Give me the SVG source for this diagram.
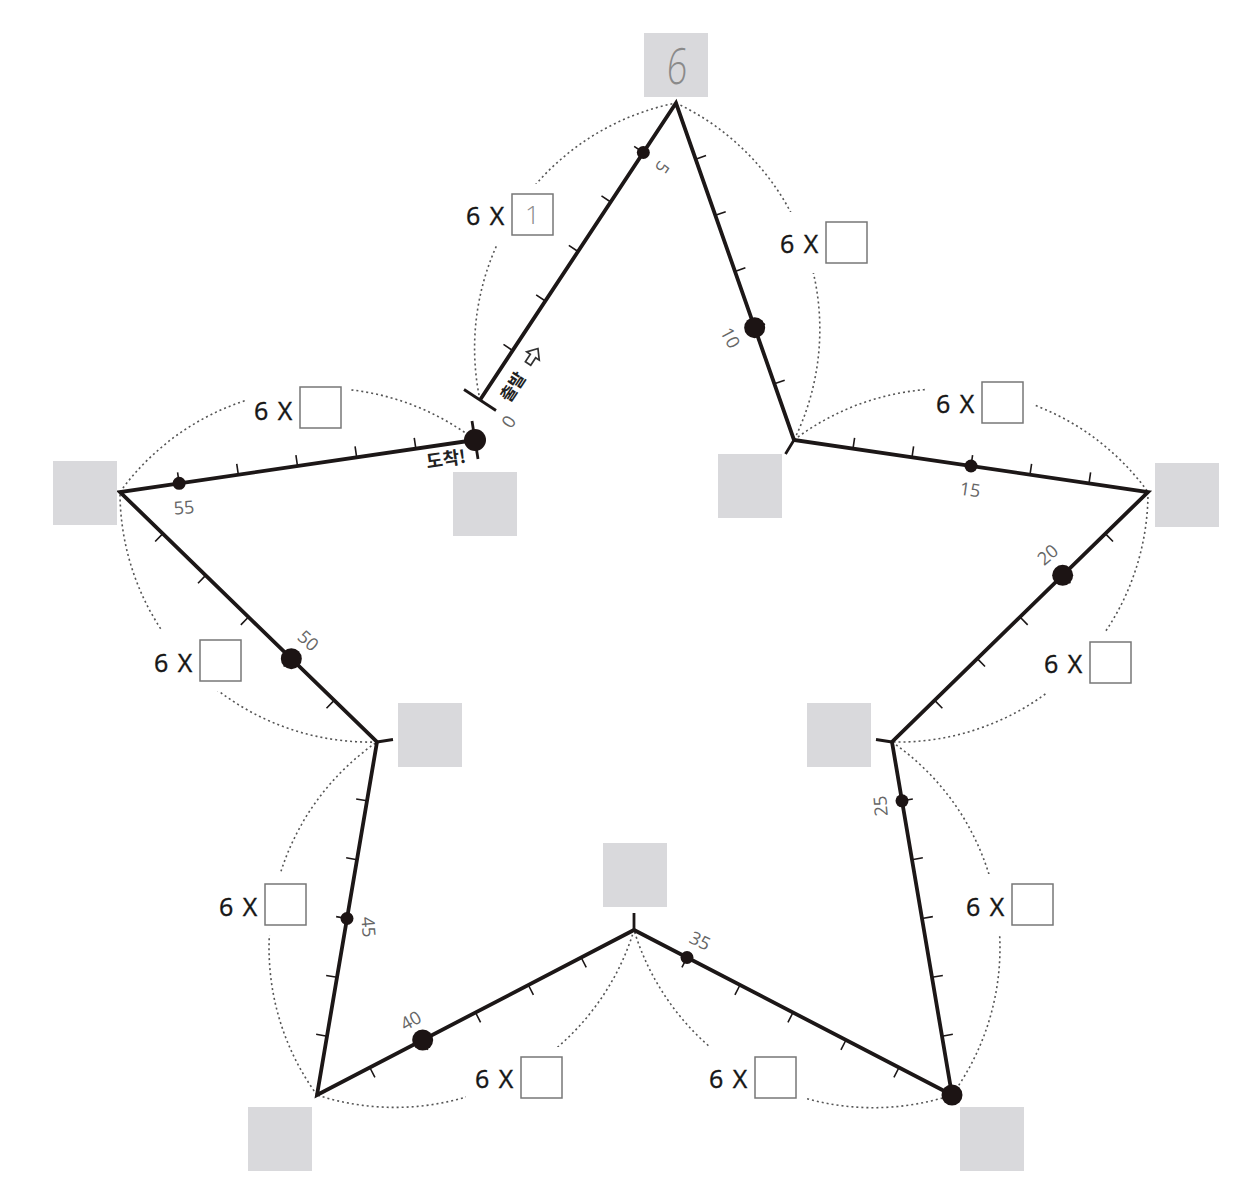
<svg xmlns="http://www.w3.org/2000/svg" width="1240" height="1189" viewBox="0 0 1240 1189">
<style>
.line{stroke:#1c1717;stroke-width:3.8;fill:none;stroke-linejoin:miter}
.stub{stroke:#1c1717;stroke-width:2.8;fill:none}
.tick{stroke:#1c1717;stroke-width:1.6;fill:none}
.arc{stroke:#555;stroke-width:1.6;fill:none;stroke-dasharray:2 3}
.dot{fill:#1c1414}
.gbox{fill:#d9d9dc}
.abox{fill:#fff;stroke:#777;stroke-width:1.5}
.mask{fill:#fff}
.mul{font-family:"Open Sans","Noto Sans",sans-serif;font-size:25px;fill:#151515;word-spacing:3px;stroke:#151515;stroke-width:0.4}
.num{font-family:"Open Sans","Noto Sans",sans-serif;font-size:18px;fill:#666;text-anchor:middle}
.kr{font-family:"Noto Sans CJK KR",sans-serif;font-weight:bold;fill:#222;text-anchor:middle}
.hand{font-family:"Open Sans","Noto Sans",sans-serif;font-weight:300;fill:#8a8a8a;text-anchor:middle}
</style>
<rect width="1240" height="1189" fill="#fff"/>
<g id="arcs">
<path class="arc" d="M480,400 A250,250 0 0 1 676,103"/>
<path class="arc" d="M676,103 A250,250 0 0 1 794,440"/>
<path class="arc" d="M794,440 A250,250 0 0 1 1148,492"/>
<path class="arc" d="M1148,492 A250,250 0 0 1 892,742"/>
<path class="arc" d="M892,742 A250,250 0 0 1 952,1095"/>
<path class="arc" d="M952,1095 A250,250 0 0 1 634,930"/>
<path class="arc" d="M634,930 A250,250 0 0 1 317,1095"/>
<path class="arc" d="M317,1095 A250,250 0 0 1 377,742"/>
<path class="arc" d="M377,742 A250,250 0 0 1 120,492"/>
<path class="arc" d="M120,492 A250,250 0 0 1 475,440"/>
</g>
<g id="label-gaps">
<rect class="mask" x="457" y="184" width="106" height="61"/>
<rect class="mask" x="771" y="212" width="106" height="61"/>
<rect class="mask" x="927" y="372" width="106" height="61"/>
<rect class="mask" x="1035" y="632" width="106" height="61"/>
<rect class="mask" x="957" y="874" width="106" height="61"/>
<rect class="mask" x="700" y="1047" width="106" height="61"/>
<rect class="mask" x="466" y="1047" width="106" height="61"/>
<rect class="mask" x="210" y="874" width="106" height="61"/>
<rect class="mask" x="145" y="630" width="106" height="61"/>
<rect class="mask" x="245" y="377" width="106" height="61"/>
</g>
<g id="connectors">
<path class="line" d="M480,400 L676,103 L794,440 L1148,492 L892,742 L952,1095 L634,930 L317,1095 L377,742 L120,492 L475,440"/>
<path class="stub" d="M794,440 L785.5,454 M892,742 L876,739.5 M634,930 L634,913 M377,742 L393,739.5"/>
<path class="stub" d="M464,389.5 L496,410.5"/>
<path class="stub" stroke-width="2.5" d="M472,421 L478,459"/>
<path class="tick" d="M512.67,350.5L503.49,344.44M545.33,301L536.15,294.94M578,251.5L568.82,245.44M610.67,202L601.49,195.94M643.33,152.5L634.15,146.44
M695.67,159.17L706.05,155.53M715.33,215.33L725.71,211.69M735,271.5L745.38,267.86M754.67,327.67L765.05,324.03M774.33,383.83L784.71,380.19
M853,448.67L854.6,437.79M912,457.33L913.6,446.45M971,466L972.6,455.12M1030,474.67L1031.6,463.79M1089,483.33L1090.6,472.45
M1105.33,533.67L1113.02,541.54M1062.67,575.33L1070.36,583.2M1020,617L1027.69,624.87M977.33,658.67L985.02,666.54M934.67,700.33L942.36,708.2
M902,800.83L912.84,798.99M912,859.67L922.84,857.83M922,918.5L932.84,916.66M932,977.33L942.84,975.49M942,1036.17L952.84,1034.33
M899,1067.5L893.93,1077.26M846,1040L840.93,1049.76M793,1012.5L787.93,1022.26M740,985L734.93,994.76M687,957.5L681.93,967.26
M581.17,957.5L586.25,967.26M528.33,985L533.41,994.76M475.5,1012.5L480.58,1022.26M422.67,1040L427.75,1049.76M369.83,1067.5L374.91,1077.26
M327,1036.17L316.16,1034.33M337,977.33L326.16,975.49M347,918.5L336.16,916.66M357,859.67L346.16,857.83M367,800.83L356.16,798.99
M334.17,700.33L326.5,708.22M291.33,658.67L283.66,666.56M248.5,617L240.83,624.89M205.67,575.33L198,583.22M162.83,533.67L155.16,541.56
M179.17,483.33L177.58,472.45M238.33,474.67L236.74,463.79M297.5,466L295.91,455.12M356.67,457.33L355.08,446.45M415.83,448.67L414.24,437.79"/>
</g>
<g id="dots">
<circle class="dot" cx="643.33" cy="152.5" r="6.5"/>
<circle class="dot" cx="754.67" cy="327.67" r="10.5"/>
<circle class="dot" cx="971" cy="466" r="6.5"/>
<circle class="dot" cx="1062.67" cy="575.33" r="10.5"/>
<circle class="dot" cx="902" cy="800.83" r="6.5"/>
<circle class="dot" cx="952" cy="1095" r="10.5"/>
<circle class="dot" cx="687" cy="957.5" r="6.5"/>
<circle class="dot" cx="422.67" cy="1040" r="10.5"/>
<circle class="dot" cx="347" cy="918.5" r="6.5"/>
<circle class="dot" cx="291.33" cy="658.67" r="10.5"/>
<circle class="dot" cx="179.17" cy="483.33" r="6.5"/>
<circle class="dot" cx="475" cy="440" r="11"/>
</g>
<g id="scale-numbers">
<text class="num" transform="translate(509,422) rotate(-56.6)" y="6">0</text>
<text class="num" transform="translate(662,167) rotate(123.4)" y="6">5</text>
<text class="num" transform="translate(730,338) rotate(62)" y="6">10</text>
<text class="num" transform="translate(970,490) rotate(8)" y="6">15</text>
<text class="num" transform="translate(1048,555) rotate(-40)" y="6">20</text>
<text class="num" transform="translate(881,806) rotate(-95)" y="6">25</text>
<text class="num" transform="translate(700,941) rotate(26)" y="6">35</text>
<text class="num" transform="translate(411,1021) rotate(-30)" y="6">40</text>
<text class="num" transform="translate(368,927) rotate(85)" y="6">45</text>
<text class="num" transform="translate(308,641) rotate(42)" y="6">50</text>
<text class="num" transform="translate(184,508) rotate(-5)" y="6">55</text>
</g>
<g id="start">
<text class="kr" font-size="17" transform="translate(513,387) rotate(-56.6)" y="6">출발</text>
<polygon transform="translate(533,356) rotate(-56.6)" points="-9,-3.2 0,-3.2 0,-7.5 9,0 0,7.5 0,3.2 -9,3.2" fill="#fff" stroke="#333" stroke-width="1.7" stroke-linejoin="miter"/>
</g>
<g id="finish">
<text class="kr" font-size="18" transform="translate(446,459) rotate(-8.3)" y="6.5">도착!</text>
</g>
<g id="v6"><rect class="gbox" x="644" y="33" width="64" height="64"/><text class="hand" font-size="50" transform="translate(676,84) scale(0.72,1) skewX(-6)">6</text></g>
<g id="v12"><rect class="gbox" x="718" y="454" width="64" height="64"/></g>
<g id="v18"><rect class="gbox" x="1155" y="463" width="64" height="64"/></g>
<g id="v24"><rect class="gbox" x="807" y="703" width="64" height="64"/></g>
<g id="v30"><rect class="gbox" x="960" y="1107" width="64" height="64"/></g>
<g id="v36"><rect class="gbox" x="603" y="843" width="64" height="64"/></g>
<g id="v42"><rect class="gbox" x="248" y="1107" width="64" height="64"/></g>
<g id="v48"><rect class="gbox" x="398" y="703" width="64" height="64"/></g>
<g id="v54"><rect class="gbox" x="53" y="461" width="64" height="64"/></g>
<g id="v60"><rect class="gbox" x="453" y="472" width="64" height="64"/></g>
<g id="m1"><text class="mul" x="466" y="225">6 X</text><rect class="abox" x="512" y="194" width="41" height="41"/><text class="hand" font-size="26" x="532.5" y="224">1</text></g>
<g id="m2"><text class="mul" x="780" y="253">6 X</text><rect class="abox" x="826" y="222" width="41" height="41"/></g>
<g id="m3"><text class="mul" x="936" y="413">6 X</text><rect class="abox" x="982" y="382" width="41" height="41"/></g>
<g id="m4"><text class="mul" x="1044" y="673">6 X</text><rect class="abox" x="1090" y="642" width="41" height="41"/></g>
<g id="m5"><text class="mul" x="966" y="916">6 X</text><rect class="abox" x="1012" y="884" width="41" height="41"/></g>
<g id="m6"><text class="mul" x="709" y="1088">6 X</text><rect class="abox" x="755" y="1057" width="41" height="41"/></g>
<g id="m7"><text class="mul" x="475" y="1088">6 X</text><rect class="abox" x="521" y="1057" width="41" height="41"/></g>
<g id="m8"><text class="mul" x="219" y="916">6 X</text><rect class="abox" x="265" y="884" width="41" height="41"/></g>
<g id="m9"><text class="mul" x="154" y="672">6 X</text><rect class="abox" x="200" y="640" width="41" height="41"/></g>
<g id="m10"><text class="mul" x="254" y="420">6 X</text><rect class="abox" x="300" y="387" width="41" height="41"/></g>
</svg>
